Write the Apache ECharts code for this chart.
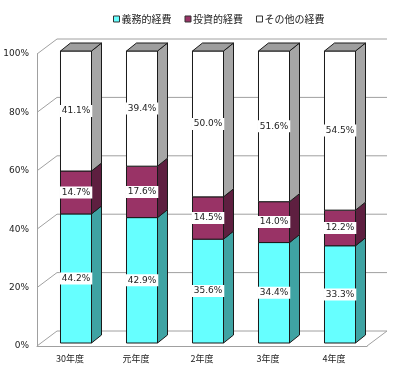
<!DOCTYPE html>
<html>
<head>
<meta charset="utf-8">
<script src="https://cdn.jsdelivr.net/npm/echarts@6/dist/echarts.min.js"></script>
<style>
  html, body { margin: 0; padding: 0; background: #fff; }
  #main { width: 400px; height: 376px; }
</style>
</head>
<body>
<div id="main"></div>
<script>
// データ（％）
var categories = ['30年度', '元年度', '2年度', '3年度', '4年度'];
var gimu = [44.2, 42.9, 35.6, 34.4, 33.3];     // 義務的経費
var toshi = [14.7, 17.6, 14.5, 14.0, 12.2];    // 投資的経費
var sonota = [41.1, 39.4, 50.0, 51.6, 54.5];   // その他の経費
var seriesNames = ['義務的経費', '投資的経費', 'その他の経費'];
var yTicks = [0, 20, 40, 60, 80, 100];

// 3D風の奥行き
var WALL_DX = 20, WALL_DY = -15;   // 背面の壁までのずれ
var FRONT_DX = 6, FRONT_DY = -3;   // 棒の前面のずれ
var SIDE_DX = 10, SIDE_DY = -8;    // 棒の側面の奥行き

var faceColors = [
  { front: '#66ffff', side: '#3fa3a3' },
  { front: '#993366', side: '#5e1f40' },
  { front: '#ffffff', side: '#a6a6a6' }
];

// 100%積み上げの区間を作る
function buildStack() {
  var raw = [gimu, toshi, sonota];
  var out = [[], [], []];
  for (var i = 0; i < categories.length; i++) {
    var total = gimu[i] + toshi[i] + sonota[i];
    var acc = 0;
    for (var s = 0; s < 3; s++) {
      var start = acc / total * 100;
      acc += raw[s][i];
      var end = acc / total * 100;
      out[s].push([i, start, end, raw[s][i]]);
    }
  }
  return out;
}
var stacked = buildStack();

function wallRender(params, api) {
  var cs = params.coordSys;
  var v = api.value(0);
  var y = api.coord([0, v])[1];
  var lineStyle = { stroke: '#a0a0a0', lineWidth: 1 };
  var children = [
    { type: 'line', shape: { x1: cs.x, y1: y, x2: cs.x + WALL_DX, y2: y + WALL_DY }, style: lineStyle },
    { type: 'line', shape: { x1: cs.x + WALL_DX, y1: y + WALL_DY, x2: cs.x + cs.width + WALL_DX, y2: y + WALL_DY }, style: lineStyle }
  ];
  if (v === 0) {
    children.push({ type: 'line', shape: { x1: cs.x + cs.width, y1: y, x2: cs.x + cs.width + WALL_DX, y2: y + WALL_DY }, style: lineStyle });
  }
  return { type: 'group', children: children };
}

function barRender(s, isTop) {
  return function (params, api) {
    var idx = api.value(0);
    var bottom = api.coord([idx, api.value(1)]);
    var top = api.coord([idx, api.value(2)]);
    var val = api.value(3);
    var w = api.size([1, 0])[0] * 0.47;
    var xl = bottom[0] - w / 2 + FRONT_DX, xr = xl + w;
    var yb = bottom[1] + FRONT_DY, yt = top[1] + FRONT_DY;
    var edge = { stroke: '#1a1a1a', lineWidth: 1 };
    var children = [
      {
        type: 'polygon',
        shape: { points: [[xr, yt], [xr + SIDE_DX, yt + SIDE_DY], [xr + SIDE_DX, yb + SIDE_DY], [xr, yb]] },
        style: Object.assign({ fill: faceColors[s].side }, edge)
      },
      {
        type: 'rect',
        shape: { x: xl, y: yt, width: w, height: yb - yt },
        style: Object.assign({ fill: faceColors[s].front }, edge)
      }
    ];
    if (isTop) {
      children.push({
        type: 'polygon',
        shape: { points: [[xl, yt], [xl + SIDE_DX, yt + SIDE_DY], [xr + SIDE_DX, yt + SIDE_DY], [xr, yt]] },
        style: Object.assign({ fill: '#9e9e9e' }, edge)
      });
    }
    children.push({
      type: 'text',
      x: (xl + xr) / 2,
      y: (yt + yb) / 2,
      style: {
        text: val.toFixed(1) + '%',
        align: 'center',
        verticalAlign: 'middle',
        fill: '#222',
        fontSize: 9,
        fontFamily: 'DejaVu Sans',
        backgroundColor: '#fff',
        padding: [2, 2, 1, 2]
      }
    });
    return { type: 'group', children: children };
  };
}

var chart = echarts.init(document.getElementById('main'));
var series = [{
  name: 'wall',
  type: 'custom',
  renderItem: wallRender,
  data: yTicks.map(function (v) { return [v]; }),
  encode: { y: 0 },
  silent: true,
  z: 1
}];
for (var s = 0; s < 3; s++) {
  series.push({
    name: seriesNames[s],
    type: 'custom',
    renderItem: barRender(s, s === 2),
    data: stacked[s],
    encode: { x: 0, y: [1, 2] },
    itemStyle: { color: faceColors[s].front, borderColor: '#333', borderWidth: 1 },
    z: 2
  });
}

var option = {
  animation: false,
  textStyle: { fontFamily: '"Noto Sans CJK JP", sans-serif' },
  legend: {
    top: 9,
    left: 108,
    icon: 'rect',
    itemWidth: 6,
    itemHeight: 6,
    itemGap: 13,
    textStyle: { fontSize: 10, color: '#222', padding: [0, 0, 0, -3] },
    data: seriesNames.map(function (n, i) {
      return { name: n, itemStyle: { color: faceColors[i].front, borderColor: '#333', borderWidth: 1 } };
    })
  },
  grid: { left: 37, right: 33, top: 54, bottom: 30 },
  xAxis: {
    type: 'category',
    data: categories,
    axisLine: { lineStyle: { color: '#a0a0a0' } },
    axisTick: { show: false },
    axisLabel: { fontSize: 9, color: '#222', margin: 8 }
  },
  yAxis: {
    type: 'value',
    min: 0,
    max: 100,
    interval: 20,
    axisLine: { show: true, lineStyle: { color: '#a0a0a0' } },
    axisTick: { show: false },
    splitLine: { show: false },
    axisLabel: { formatter: '{value}%', fontSize: 9, color: '#222', margin: 8, fontFamily: 'DejaVu Sans' }
  },
  series: series
};
chart.setOption(option);
</script>
</body>
</html>
